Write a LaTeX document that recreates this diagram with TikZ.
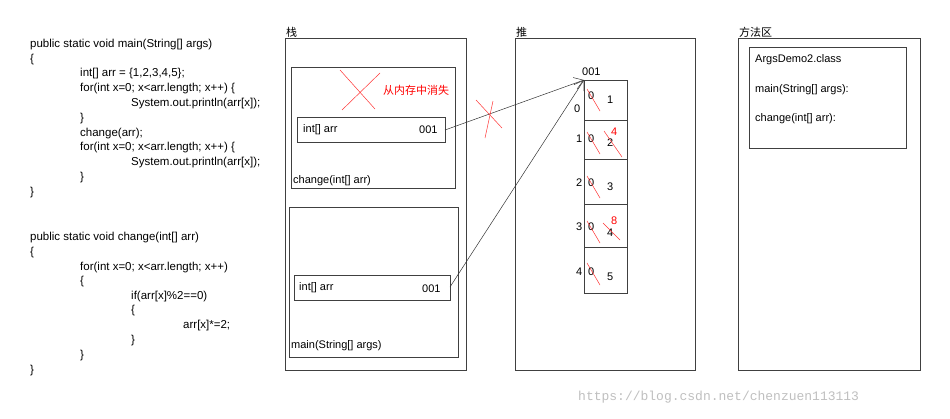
\documentclass[tikz,border=0pt]{standalone}
\usepackage{fontspec}
\setmainfont{Liberation Sans}
\newfontfamily\cjk{Noto Sans CJK SC}
\newfontfamily\mono{Liberation Mono}
\usetikzlibrary{arrows.meta}
\begin{document}
\begin{tikzpicture}[x=1pt,y=-1pt,
  txt/.style={anchor=west,inner sep=0pt,font=\fontsize{11}{12}\selectfont},
  box/.style={draw=black!75,line width=0.6pt},
  rx/.style={draw=red!80,line width=0.5pt},
  ar/.style={draw=black!80,line width=0.5pt,-{Straight Barb[length=9pt,width=12pt]}}]
\useasboundingbox (0,0) rectangle (950,418);
% code
\foreach \x/\y/\t in {30/45/{public static void main(String[] args)},30/60/{\{},80/74/{int[] arr = \{1,2,3,4,5\};},80/89/{for(int x=0; x<arr.length; x++) \{},131/104/{System.out.println(arr[x]);},80/119/{\}},80/134/{change(arr);},80/148/{for(int x=0; x<arr.length; x++) \{},131/163/{System.out.println(arr[x]);},80/178/{\}},30/193/{\}},
30/238/{public static void change(int[] arr)},30/253/{\{},80/268/{for(int x=0; x<arr.length; x++)},80/282/{\{},131/297/{if(arr[x]\%2==0)},131/311/{\{},183/326/{arr[x]*=2;},131/341/{\}},80/356/{\}},30/371/{\}}}
  \node[txt,font=\fontsize{11.5}{12}\selectfont] at (\x,\y) {\t};
% stack
\node[txt,font=\cjk\fontsize{11}{12}\selectfont] at (286,32) {栈};
\draw[box] (285,38) rectangle (466,370);
\draw[box] (291,67) rectangle (455,188);
\draw[rx] (340,70) -- (375,109); \draw[rx] (380,73) -- (342,110);
\node[txt,text=red,font=\cjk\fontsize{11}{12}\selectfont] at (383,90) {从内存中消失};
\draw[box] (297,117) rectangle (445,142);
\node[txt] at (303,130) {int[] arr};
\node[txt] at (419,130) {001};
\coordinate (c1) at (445,130);
\node[txt] at (293,181) {change(int[] arr)};
\draw[box] (289,207) rectangle (458,357);
\draw[box] (294,275) rectangle (450,300);
\node[txt] at (299,288) {int[] arr};
\node[txt] at (422,289) {001};
\coordinate (c2) at (450,287);
\node[txt] at (291,346) {main(String[] args)};
% heap
\node[txt,font=\cjk\fontsize{11}{12}\selectfont] at (516,32) {推};
\draw[box] (515,38) rectangle (695,370);
\draw[box] (584,80) rectangle (627,293);
\foreach \y in {120,159,204,247} \draw[box] (584,\y) -- (627,\y);
\coordinate (a0) at (584,80);
\node[txt] at (582,72) {001};
\foreach \i/\y in {0/109,1/139,2/183,3/227,4/272} {
  \node[txt] at (\ifnum\i=0 574\else 576\fi,\y) {\i};
  \node[txt] at (588,\ifnum\i=0 96\else\y\fi) {0};
}
\foreach \v/\y in {1/100,2/143,3/187,4/233,5/277} \node[txt] at (607,\y) {\v};
\foreach \y in {89,132,176,221,263} \draw[rx] (587,\y) -- (600,\y+22);
\draw[rx] (604,131) -- (622,157);
\draw[rx] (603,223) -- (620,240);
\node[txt,text=red] at (611,132) {4};
\node[txt,text=red] at (611,221) {8};
\draw[ar] (c1) -- (a0);
\draw[ar] (c2) -- (a0);
\draw[rx] (476,100) -- (502,128); \draw[rx] (493,101) -- (485,138);
% method area
\node[txt,font=\cjk\fontsize{11}{12}\selectfont] at (739,32) {方法区};
\draw[box] (738,38) rectangle (920,370);
\draw[box] (749,47) rectangle (906,148);
\node[txt] at (755,60) {ArgsDemo2.class};
\node[txt] at (755,90) {main(String[] args):};
\node[txt] at (755,119) {change(int[] arr):};
% watermark
\node[txt,text=black!25,font=\mono\fontsize{13}{14}\selectfont] at (578,397) {https://blog.csdn.net/chenzuen113113};
\end{tikzpicture}
\end{document}
